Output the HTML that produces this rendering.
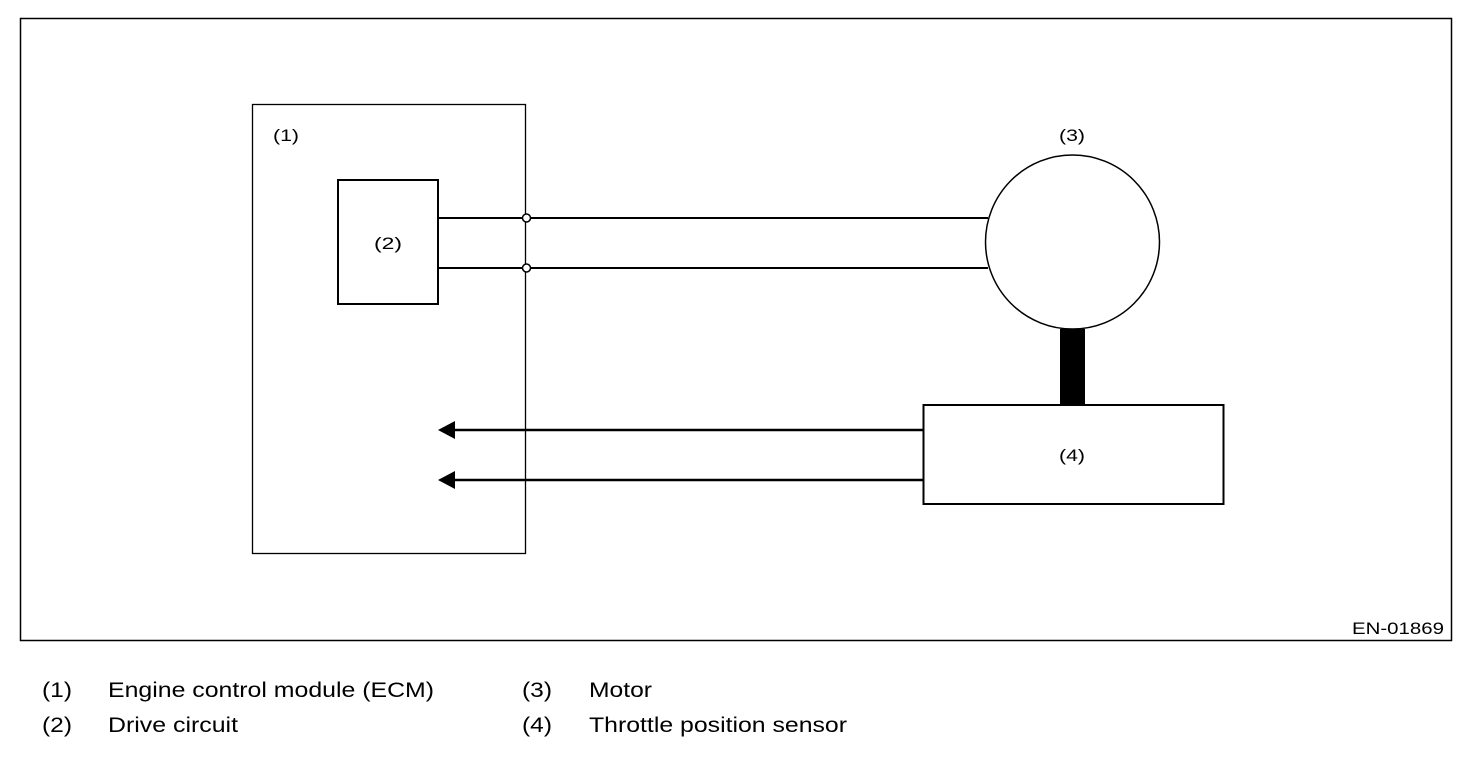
<!DOCTYPE html>
<html><head><style>body{margin:0;background:#fff}svg{display:block}</style></head><body>
<svg width="1472" height="762" xmlns="http://www.w3.org/2000/svg" font-family="Liberation Sans, sans-serif">
<rect x="20.5" y="18.5" width="1431" height="622" fill="none" stroke="#000" stroke-width="1.5"/>
<rect x="252.5" y="104.5" width="273" height="449" fill="none" stroke="#000" stroke-width="1.3"/>
<rect x="338" y="180" width="100" height="124" fill="none" stroke="#000" stroke-width="2"/>
<line x1="438" y1="218" x2="988" y2="218" stroke="#000" stroke-width="2"/>
<line x1="438" y1="268" x2="988" y2="268" stroke="#000" stroke-width="2"/>
<circle cx="526.5" cy="218" r="4" fill="#fff" stroke="#000" stroke-width="1.5"/>
<circle cx="526.5" cy="268" r="4" fill="#fff" stroke="#000" stroke-width="1.5"/>
<circle cx="1072.5" cy="242" r="87" fill="#fff" stroke="#000" stroke-width="1.5"/>
<rect x="1060" y="329" width="25" height="76" fill="#000"/>
<rect x="923.5" y="405" width="300" height="99" fill="#fff" stroke="#000" stroke-width="2"/>
<line x1="452" y1="430" x2="923" y2="430" stroke="#000" stroke-width="2.5"/>
<line x1="452" y1="480" x2="923" y2="480" stroke="#000" stroke-width="2.5"/>
<polygon points="438,430 455,421 455,439" fill="#000"/>
<polygon points="438,480 455,471 455,489" fill="#000"/>
<g font-size="17" fill="#000">
<text x="273" y="141" textLength="26" lengthAdjust="spacingAndGlyphs">(1)</text>
<text x="374" y="249" textLength="28" lengthAdjust="spacingAndGlyphs">(2)</text>
<text x="1059" y="141" textLength="26" lengthAdjust="spacingAndGlyphs">(3)</text>
<text x="1059" y="461" textLength="26" lengthAdjust="spacingAndGlyphs">(4)</text>
<text x="1352" y="634" textLength="92" lengthAdjust="spacingAndGlyphs">EN-01869</text>
</g>
<g font-size="21" fill="#000">
<text x="42" y="697" textLength="30" lengthAdjust="spacingAndGlyphs">(1)</text><text x="108" y="697" textLength="326" lengthAdjust="spacingAndGlyphs">Engine control module (ECM)</text>
<text x="42" y="732" textLength="30" lengthAdjust="spacingAndGlyphs">(2)</text><text x="108" y="732" textLength="130" lengthAdjust="spacingAndGlyphs">Drive circuit</text>
<text x="522" y="697" textLength="30" lengthAdjust="spacingAndGlyphs">(3)</text><text x="589" y="697" textLength="63" lengthAdjust="spacingAndGlyphs">Motor</text>
<text x="522" y="732" textLength="30" lengthAdjust="spacingAndGlyphs">(4)</text><text x="589" y="732" textLength="258" lengthAdjust="spacingAndGlyphs">Throttle position sensor</text>
</g>
</svg>
</body></html>
